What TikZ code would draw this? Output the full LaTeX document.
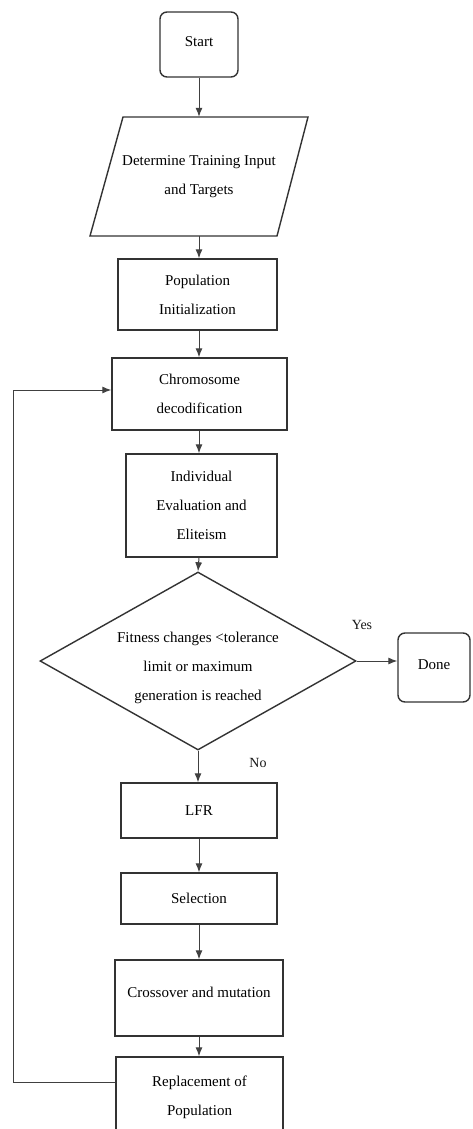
\documentclass[tikz,border=0pt]{standalone}
\usepackage{fontspec}
\setmainfont{Liberation Serif}
\usetikzlibrary{shapes.geometric,arrows.meta}
\begin{document}
\begin{tikzpicture}[x=1pt,y=-1pt,
  txt/.style={font=\fontsize{15}{29}\selectfont, align=center, text=black},
  box/.style={txt, draw=black!80, line width=1.4pt, inner sep=0pt},
  rbox/.style={box, rounded corners=7pt},
  arr/.style={draw=black!75, line width=1pt, -{Latex[length=9pt,width=7pt]}},
  lbl/.style={font=\fontsize{14}{16}\selectfont, text=black!90}]
\useasboundingbox (0,0) rectangle (473,1129);
\clip (0,0) rectangle (473,1129);
\fill[white] (0,0) rectangle (473,1129);

\node[rbox, minimum width=78pt, minimum height=65pt] (start) at (199,44.5) {\raisebox{5pt}{Start}};

\node[txt, minimum width=150pt, minimum height=119pt, inner sep=0pt] (input) at (199,176.5) {Determine Training Input\\and Targets};
\draw[black!80, line width=1.4pt] (123,117) -- (308,117) -- (277,236) -- (90,236) -- cycle;

\node[box, minimum width=159pt, minimum height=71pt] (pop) at (197.5,294.5) {Population\\Initialization};
\node[box, minimum width=175pt, minimum height=72pt] (chrom) at (199.5,394) {Chromosome\\decodification};
\node[box, minimum width=151pt, minimum height=103pt] (indiv) at (201.5,505.5) {Individual\\Evaluation and\\Eliteism};
\node[shape=diamond, draw=black!80, line width=1.4pt, inner sep=0pt, minimum width=316pt, minimum height=178pt] (dec) at (198,661) {};
\node[txt] (dectxt) at (198,668) {Fitness changes <tolerance\\limit or maximum\\generation is reached};
\node[rbox, minimum width=72pt, minimum height=69pt] (done) at (434,667.5) {\raisebox{5pt}{Done}};
\node[box, minimum width=156pt, minimum height=55pt] (lfr) at (199,810.5) {LFR};
\node[box, minimum width=156pt, minimum height=51pt] (sel) at (199,898.5) {Selection};
\node[box, minimum width=168pt, minimum height=76pt] (cross) at (199,998) {\raisebox{11pt}{Crossover and mutation}};
\node[box, minimum width=167pt, minimum height=80pt] (repl) at (199.5,1097) {Replacement of\\Population};

\node[lbl] (yes) at (362,625) {Yes};
\node[lbl] (no) at (258,763) {No};

\draw[arr] (start.south) -- (start.south |- input.north);
\draw[arr] (input.south) -- (input.south |- pop.north);
\draw[arr] (input.south |- pop.south) -- (input.south |- chrom.north);
\draw[arr] (input.south |- chrom.south) -- (input.south |- indiv.north);
\draw[arr] (input.south |- indiv.south) -- (dec.north);
\draw[arr] (dec.east) -- (dec.east -| done.west);
\draw[arr] (dec.south) -- (dec.south |- lfr.north);
\draw[arr] (lfr.south) -- (sel.north);
\draw[arr] (sel.south) -- (cross.north);
\draw[arr] (cross.south) -- (cross.south |- repl.north);
\coordinate (fb) at (13,390);
\draw[arr] ([yshift=15pt]repl.west) -| (fb) -- ([yshift=4pt]chrom.west);
\end{tikzpicture}
\end{document}
